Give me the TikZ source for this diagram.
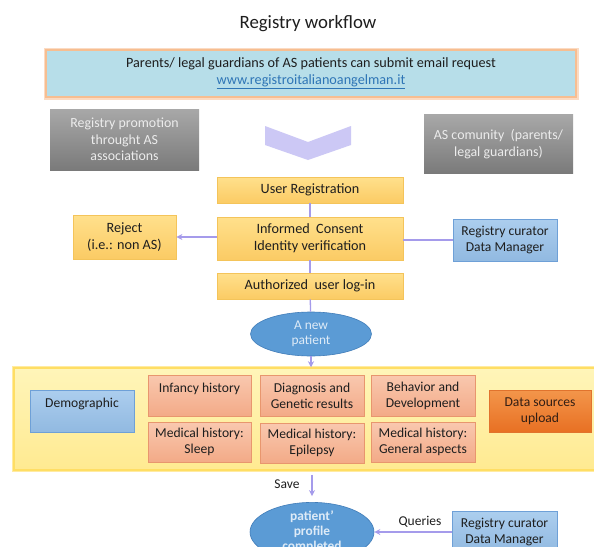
\documentclass[tikz,border=0pt]{standalone}
\usepackage{fontspec}
\setmainfont{Carlito}
\usetikzlibrary{arrows.meta,shapes.geometric,calc}
\definecolor{txt}{RGB}{30,30,30}
\definecolor{yelTop}{RGB}{255,224,140}
\definecolor{yelBot}{RGB}{251,203,100}
\definecolor{yelDraw}{RGB}{244,196,90}
\definecolor{blueTop}{RGB}{172,206,238}
\definecolor{blueBot}{RGB}{145,185,225}
\definecolor{blueDraw}{RGB}{110,160,215}
\definecolor{salTop}{RGB}{249,200,175}
\definecolor{salBot}{RGB}{243,170,135}
\definecolor{salDraw}{RGB}{232,150,110}
\definecolor{orTop}{RGB}{243,150,75}
\definecolor{orBot}{RGB}{232,112,35}
\definecolor{orDraw}{RGB}{225,115,45}
\definecolor{orTxt}{RGB}{50,30,20}
\definecolor{grayTop}{RGB}{168,168,168}
\definecolor{grayBot}{RGB}{122,122,122}
\definecolor{grayTxt}{RGB}{236,236,236}
\definecolor{ellFill}{RGB}{91,155,213}
\definecolor{ellDraw}{RGB}{65,125,185}
\definecolor{ellTxt}{RGB}{222,235,247}
\definecolor{conTop}{RGB}{255,245,185}
\definecolor{conBot}{RGB}{255,234,145}
\definecolor{conDraw}{RGB}{255,222,100}
\definecolor{lav}{RGB}{165,155,235}
\definecolor{chev}{RGB}{204,200,245}
\definecolor{topFill}{RGB}{183,222,233}
\definecolor{topDraw}{RGB}{247,190,145}
\definecolor{link}{RGB}{46,117,182}
\begin{document}
\begin{tikzpicture}[x=1pt,y=-1pt,
  base/.style={rectangle, align=center, inner sep=0pt, text=txt, font=\fontsize{14.2}{17}\selectfont},
  ybox/.style={base, top color=yelTop, bottom color=yelBot, draw=yelDraw, line width=0.8pt},
  bbox/.style={base, top color=blueTop, bottom color=blueBot, draw=blueDraw, line width=0.8pt, font=\fontsize{13.6}{16.5}\selectfont},
  sbox/.style={base, top color=salTop, bottom color=salBot, draw=salDraw, line width=0.8pt, font=\fontsize{13.6}{16}\selectfont, minimum width=103pt},
  gbox/.style={base, top color=grayTop, bottom color=grayBot, text=grayTxt, font=\fontsize{13.9}{16.5}\selectfont},
  obox/.style={base, top color=orTop, bottom color=orBot, draw=orDraw, line width=0.8pt, text=orTxt, font=\fontsize{13.6}{16.5}\selectfont},
  ell/.style={ellipse, fill=ellFill, draw=ellDraw, line width=0.6pt, text=ellTxt, align=center, inner sep=0pt, font=\fontsize{13.4}{15.5}\selectfont},
  conn/.style={draw=lav, line width=1.3pt},
  arr/.style={conn, -{Stealth[length=6pt,width=6pt]}},
  lbl/.style={text=txt, font=\fontsize{13.5}{16}\selectfont, inner sep=0pt}
]
\useasboundingbox (0,0) rectangle (594,546);
\clip (0,0) rectangle (594,546);
\fill[white] (0,0) rectangle (594,546);

\node[lbl, font=\fontsize{18.8}{22}\selectfont] (title) at (308,24) {Registry workflow};

\draw[topDraw!55, line width=5pt] (46,50) rectangle (576,97);
\node[base, fill=topFill, draw=topDraw, line width=2pt, minimum width=530pt, minimum height=47pt, font=\fontsize{14.2}{17}\selectfont] (req) at (311,73.5)
  {Parents/ legal guardians of AS patients can submit email request\\ \textcolor{link}{\underline{www.registroitalianoangelman.it}}};

\node[gbox, minimum width=149pt, minimum height=61pt] (promo) at (124.5,139.5) {Registry promotion\\ throught AS\\ associations};
\node[gbox, minimum width=149pt, minimum height=59pt] (comm) at (498.5,144) {AS comunity\ \ (parents/\\ legal guardians)};

\fill[chev] (265,126) -- (308,142) -- (351,126) -- (351,145) -- (308,160) -- (265,145) -- cycle;

\node[ybox, minimum width=186pt, minimum height=26pt] (reg) at (310,190) {User Registration};
\node[ybox, minimum width=186pt, minimum height=43pt] (cons) at (310,238.5) {Informed\ \ Consent\\ Identity verification};
\node[ybox, minimum width=186pt, minimum height=26pt] (login) at (310,286) {Authorized\ \ user log-in};
\node[ybox, minimum width=103pt, minimum height=44pt] (rej) at (124.5,237) {Reject\\ (i.e.: non AS)};
\node[bbox, minimum width=104pt, minimum height=42pt] (cur) at (505,240) {Registry curator\\ Data Manager};
\node[ell, minimum width=121pt, minimum height=44pt] (new) at (311,334) {A new\\ patient};

\draw[conDraw!60, line width=4.5pt] (14,368) rectangle (610,470);
\node[rectangle, top color=conTop, bottom color=conBot, draw=conDraw, line width=1.5pt, minimum width=596pt, minimum height=102pt, inner sep=0pt] (form) at (312,419) {};

\node[bbox, minimum width=104pt, minimum height=42pt] (demo) at (82,411) {Demographic\\\phantom{X}};
\node[sbox, minimum height=41pt] (inf) at (199.5,395.5) {Infancy history\\\phantom{X}};
\node[sbox, minimum width=104pt, minimum height=41pt] (diag) at (312,395.5) {Diagnosis and\\ Genetic results};
\node[sbox, minimum width=104pt, minimum height=41pt] (beh) at (423,395.5) {Behavior and\\ Development};
\node[sbox, minimum height=40pt] (sleep) at (199.5,442) {Medical history:\\ Sleep};
\node[sbox, minimum width=104pt, minimum height=40pt] (epi) at (312,443) {Medical history:\\ Epilepsy};
\node[sbox, minimum width=104pt, minimum height=40pt] (gen) at (423,442) {Medical history:\\ General aspects};
\node[obox, minimum width=102pt, minimum height=42pt] (up) at (540,411) {Data sources\\ upload};

\node[ell, minimum width=124pt, minimum height=54pt, font=\bfseries\fontsize{13.4}{15}\selectfont] (done) at (312,532) {patient’\\ profile\\ completed};
\node[bbox, minimum width=105pt, minimum height=42pt] (cur2) at (504.5,532) {Registry curator\\ Data Manager};

\draw[conn] (reg) -- (cons);
\draw[conn] (cons) -- (login);
\draw[conn] (login) -- (new);
\draw[arr] (new) -- (new |- form.north);
\draw[arr] (rej.east -| cons.west) -- (rej.east);
\draw[conn] (cur.west) -- (cur.west -| cons.east);
\draw[arr, shorten <=4pt, shorten >=6pt] (form.south -| done) -- (done.north);
\node[lbl] (save) at (287,484) {Save};
\draw[arr] (cur2.west) -- (cur2.west -| done.east);
\node[lbl] (q) at (420,522) {Queries};
\end{tikzpicture}
\end{document}
